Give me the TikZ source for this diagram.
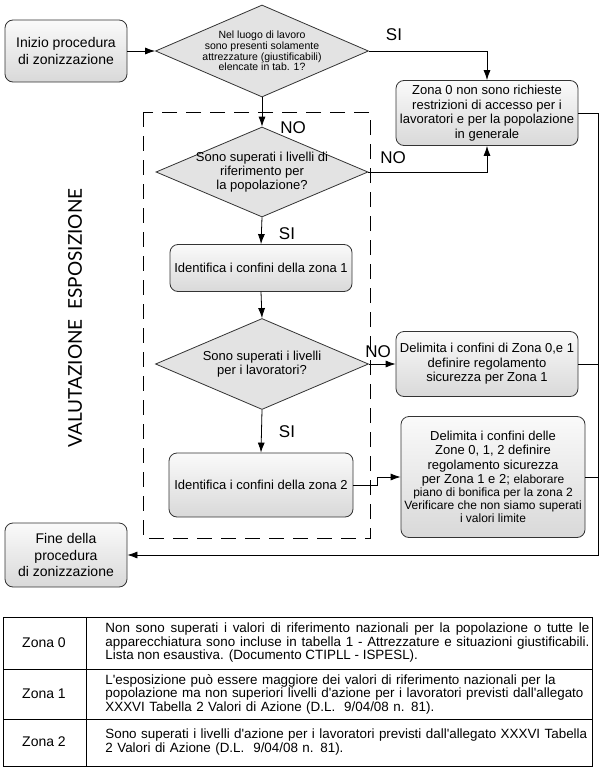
\documentclass[tikz,border=0pt]{standalone}
\usepackage{fontspec}
\setmainfont{Liberation Sans}
\newfontfamily\lettering{Lato}
\usetikzlibrary{shapes.geometric,arrows.meta}

\begin{document}
\begin{tikzpicture}[x=1pt,y=-1pt,line width=0.8pt,
	terminal/.style={draw=black!80,rounded corners=8pt,top color=gray!4,bottom color=gray!30,align=center,inner sep=0pt,font=\fontsize{14}{16.5}\selectfont},
	process/.style={draw=black!80,rounded corners=8pt,top color=gray!4,bottom color=gray!30,align=center,inner sep=0pt,font=\fontsize{13}{14.5}\selectfont},
	decision/.style={draw=black!80,diamond,aspect=2.3,fill=gray!22,inner sep=-4pt,align=center,font=\fontsize{13}{14}\selectfont},
	answer/.style={inner sep=0pt,font=\fontsize{17}{17}\selectfont},
	flow/.style={-{Latex[length=10pt,width=7pt]}},
	cell/.style={inner sep=0pt,font=\fontsize{14}{14}\selectfont},
	desc/.style={anchor=west,inner sep=0pt,text width=484pt,font=\fontsize{13.4}{13.5}\selectfont}]
	\useasboundingbox (0,0) rectangle (600,768);

	\draw[dash pattern=on 15pt off 9pt] (143,112) rectangle (370,538);

	\node[terminal,minimum width=122,minimum height=62] (start) at (66,51) {Inizio procedura\\di zonizzazione};
	\node[decision,minimum width=213,minimum height=92,font=\fontsize{10.5}{10.8}\selectfont] (q1) at (262,51) {Nel luogo di lavoro\\sono presenti solamente\\attrezzature (giustificabili)\\elencate in tab. 1?};
	\node[process,minimum width=182,minimum height=65] (z0) at (487,113) {Zona 0 non sono richieste\\restrizioni di accesso per i\\lavoratori e per la popolazione\\in generale};
	\node[decision,minimum width=212,minimum height=90] (q2) at (262,172) {Sono superati i livelli di\\riferimento per\\la popolazione?};
	\node[process,minimum width=182,minimum height=47] (id1) at (261,268) {Identifica i confini della zona 1};
	\node[decision,minimum width=213,minimum height=91] (q3) at (262,364) {Sono superati i livelli\\per i lavoratori?};
	\node[process,minimum width=182,minimum height=65] (d1) at (487,364) {Delimita i confini di Zona 0,e 1\\definire regolamento\\sicurezza per Zona 1};
	\node[process,minimum width=184,minimum height=64] (id2) at (261,485) {Identifica i confini della zona 2};
	\node[process,minimum width=184,minimum height=121] (d2) at (493,477) {Delimita i confini delle\\Zone 0, 1, 2 definire\\regolamento sicurezza\\per Zona 1 e 2; {\fontsize{12}{13}\selectfont elaborare}\\[-1.5pt]{\fontsize{12}{13}\selectfont piano di bonifica per la zona 2}\\[-1.5pt]{\fontsize{12}{13}\selectfont Verificare che non siamo superati}\\[-1.5pt]{\fontsize{12}{13}\selectfont i valori limite}};
	\node[terminal,minimum width=122,minimum height=64] (fin) at (66,555) {Fine della\\procedura\\di zonizzazione};

	\node[rotate=90,font=\lettering\fontsize{19}{19}\selectfont] (phase) at (75,318) {VALUTAZIONE\ \ ESPOSIZIONE};

	\node[answer] (si1) at (394,35) {SI};
	\node[answer] (no1) at (293,128) {NO};
	\node[answer] (no2) at (393,158) {NO};
	\node[answer] (si2) at (287,234) {SI};
	\node[answer] (no3) at (378,352) {NO};
	\node[answer] (si3) at (287,432) {SI};

	\coordinate (rail) at (598,555);
	\draw[flow] (start.east) -- (q1.west);
	\draw[flow] (q1.east) -| (z0.north);
	\draw[flow] (q1.south) -- (q2.north);
	\draw[flow] (q2.east) -| (z0.south);
	\draw[flow] (q2.south) -- (id1.north);
	\draw[flow] (id1.south) -- (q3.north);
	\draw[flow] (q3.east) -- (d1.west);
	\draw[flow] (q3.south) -- (id2.north);
	\draw[flow] (id2.east) -- ++(24,0) |- (d2.west);
	\draw[flow] (z0.east) -| (rail) -- (fin.east);
	\draw (d1.east) -- (d1.east -| rail);
	\draw (d2.east) -- (d2.east -| rail);

	\draw (3,617) rectangle (592,766);
	\draw (3,669) -- (592,669);
	\draw (3,719) -- (592,719);
	\draw (86,617) -- (86,766);

	\node[cell] (zona0) at (44,643) {Zona 0};
	\node[cell] (zona1) at (44,694) {Zona 1};
	\node[cell] (zona2) at (44,742) {Zona 2};
	\node[desc,align=justify] (text0) at (105,643) {Non sono superati i valori di riferimento nazionali per la popolazione o tutte le\linebreak apparecchiatura sono incluse in tabella 1 - Attrezzature e situazioni giustificabili.\linebreak Lista non esaustiva. (Documento CTIPLL - ISPESL).};
	\node[desc,align=left] (text1) at (105,694) {L\textquotesingle esposizione può essere maggiore dei valori di riferimento nazionali per la\\popolazione ma non superiori livelli d\textquotesingle azione per i lavoratori previsti dall\textquotesingle allegato\\XXXVI Tabella 2 Valori di Azione (D.L.\ \ 9/04/08 n. 81).};
	\node[desc,align=left] (text2) at (105,742) {Sono superati i livelli d\textquotesingle azione per i lavoratori previsti dall\textquotesingle allegato XXXVI Tabella\\2 Valori di Azione (D.L.\ \ 9/04/08 n. 81).};
\end{tikzpicture}
\end{document}
